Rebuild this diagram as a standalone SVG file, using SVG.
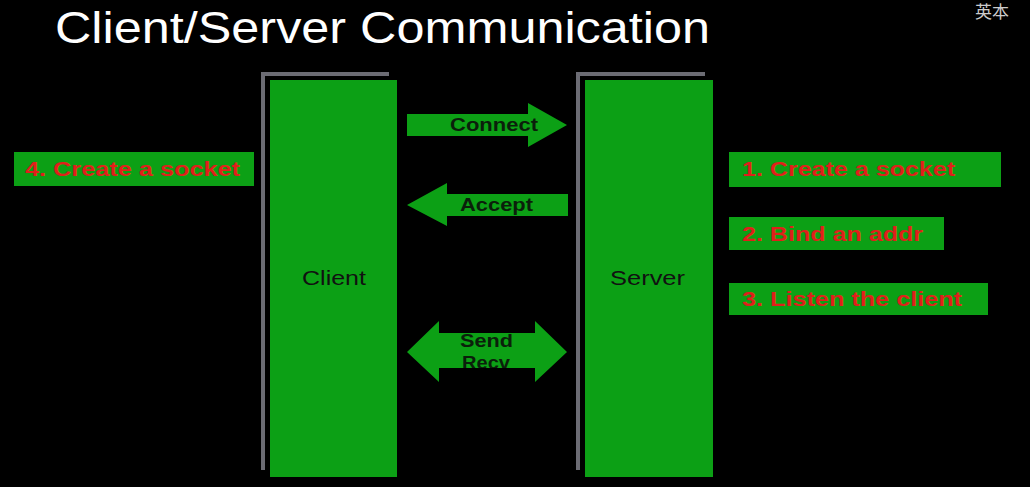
<svg xmlns="http://www.w3.org/2000/svg" width="1030" height="487" viewBox="0 0 1030 487">
<style>
.frame{fill:none;stroke:#6c6c74;stroke-width:4}
.node{fill:#0ca015}
.arrow{fill:#0ca015}
.atext{font-family:"Liberation Sans",Arial,sans-serif;font-weight:bold;font-size:18px;fill:#0b1f0b}
.ntext{font-family:"Liberation Sans",Arial,sans-serif;font-size:20px;fill:#111}
.lbl{fill:#0ca015}
.ltext{font-family:"Liberation Sans",Arial,sans-serif;font-weight:bold;font-size:20px;fill:#e01f1a}
</style>
<defs>
<clipPath id="srclip"><polygon points="407,352 439,321 439,333 535,333 535,321 567,352 535,382 535,368 439,368 439,382"/></clipPath>
</defs>
<rect x="0" y="0" width="1030" height="487" fill="#000"/>
<text x="55" y="43" font-family="'Liberation Sans',Arial,sans-serif" font-size="44" fill="#fff" textLength="655" lengthAdjust="spacingAndGlyphs">Client/Server Communication</text>
<text x="975" y="18" font-family="'Noto Sans CJK SC',sans-serif" font-size="17" fill="#ccc">英本</text>

<g id="client">
<path class="frame" d="M263,470 V74 H389"/>
<rect class="node" x="270" y="80" width="127" height="397"/>
<text class="ntext" x="302" y="285" textLength="64" lengthAdjust="spacingAndGlyphs">Client</text>
</g>
<g id="server">
<path class="frame" d="M578,470 V74 H705"/>
<rect class="node" x="585" y="80" width="128" height="397"/>
<text class="ntext" x="610" y="285" textLength="75" lengthAdjust="spacingAndGlyphs">Server</text>
</g>

<g id="connectors">
<polygon class="arrow" points="407,114 528,114 528,103 567,125 528,147 528,136 407,136"/>
<text class="atext" x="450" y="131" textLength="88" lengthAdjust="spacingAndGlyphs">Connect</text>
<polygon class="arrow" points="407,205 447,183 447,194 568,194 568,216 447,216 447,226"/>
<text class="atext" x="460" y="211" textLength="73" lengthAdjust="spacingAndGlyphs">Accept</text>
<polygon class="arrow" points="407,352 439,321 439,333 535,333 535,321 567,352 535,382 535,368 439,368 439,382"/>
<g clip-path="url(#srclip)">
<text class="atext" x="460" y="347" textLength="53" lengthAdjust="spacingAndGlyphs">Send</text>
<text class="atext" x="462" y="369" textLength="48" lengthAdjust="spacingAndGlyphs">Recv</text>
</g>
</g>

<g id="step4">
<rect class="lbl" x="14" y="152" width="240" height="34"/>
<text class="ltext" x="25" y="176" textLength="215" lengthAdjust="spacingAndGlyphs">4. Create a socket</text>
</g>
<g id="step1">
<rect class="lbl" x="729" y="152" width="272" height="35"/>
<text class="ltext" x="742" y="176" textLength="213" lengthAdjust="spacingAndGlyphs">1. Create a socket</text>
</g>
<g id="step2">
<rect class="lbl" x="729" y="217" width="215" height="33"/>
<text class="ltext" x="742" y="241" textLength="181" lengthAdjust="spacingAndGlyphs">2. Bind an addr</text>
</g>
<g id="step3">
<rect class="lbl" x="729" y="283" width="259" height="32"/>
<text class="ltext" x="742" y="306" textLength="220" lengthAdjust="spacingAndGlyphs">3. Listen the client</text>
</g>
</svg>
